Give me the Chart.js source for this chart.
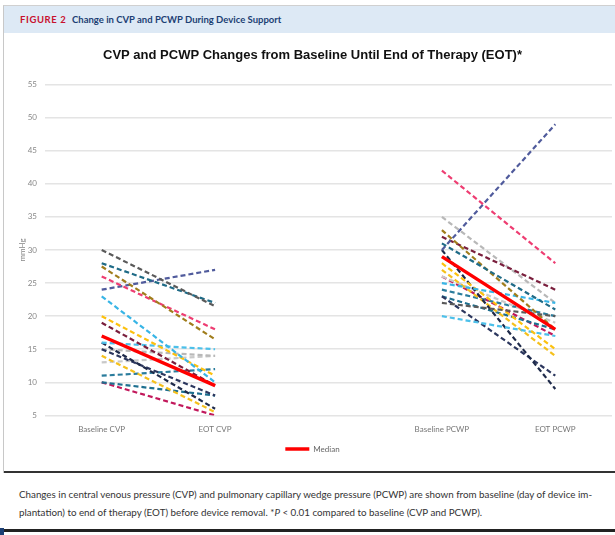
<!DOCTYPE html>
<html>
<head>
<meta charset="utf-8">
<script src="https://cdn.jsdelivr.net/npm/chart.js@4/dist/chart.umd.min.js"></script>
<style>
	html, body { margin: 0; padding: 0; background: #fff; }
	body { width: 615px; height: 535px; position: relative; overflow: hidden; font-family: "Liberation Sans", Arial, sans-serif; }
	#frame { position: absolute; left: 3px; top: 5px; width: 612px; height: 467px; border-left: 1px solid #c8c8c8; border-top: 1px solid #d0d0d0; }
	#header { position: absolute; left: 4px; top: 6px; width: 611px; height: 27px; background: #dde9f5; }
	#header span { position: absolute; top: 8px; font-family: Lato, sans-serif; font-weight: bold; font-size: 9.5px; }
	#fig { left: 16px; color: #c8102e; letter-spacing: 0.6px; }
	#figtitle { left: 68px; color: #1c3f74; }
	#box { position: absolute; left: 5px; top: 33px; width: 610px; height: 432px; }
	#rule1 { position: absolute; left: 4px; top: 471px; width: 611px; height: 2px; background: #333; }
	#caption { position: absolute; left: 19px; top: 485px; width: 595px; font-family: Lato, sans-serif; font-size: 9.8px; line-height: 18px; color: #333; }
	#rule2 { position: absolute; left: 4px; top: 529px; width: 611px; height: 3px; background: #222; }
	#corner { position: absolute; left: 0; top: 528px; width: 4px; height: 7px; background: #1c3f74; }
</style>
</head>
<body>
<div id="frame"></div>
<div id="header"><span id="fig">FIGURE 2</span><span id="figtitle">Change in CVP and PCWP During Device Support</span></div>
<div id="box"><canvas id="myChart" width="610" height="432"></canvas></div>
<div id="rule1"></div>
<div id="caption">Changes in central venous pressure (CVP) and pulmonary capillary wedge pressure (PCWP) are shown from baseline (day of device im-<br>plantation) to end of therapy (EOT) before device removal. *<i>P</i> &lt; 0.01 compared to baseline (CVP and PCWP).</div>
<div id="rule2"></div>
<div id="corner"></div>
<script>
const categories = ["Baseline CVP", "EOT CVP", "", "Baseline PCWP", "EOT PCWP"];

// one colour per patient, same colour in both panels
const patientColors = [
	"#5a5a5a", "#1f6b87", "#a07d1c", "#ee3d72", "#505b9c", "#38b5e6",
	"#fcc10f", "#7a1f3d", "#4cc0ea", "#1e2a4a", "#2c375e", "#b8b8b8",
	"#f5c01c", "#c9c9c9", "#2a7c9c", "#1d6f8f", "#c2185b",
];
const cvpBaseline  = [30, 28, 27.5, 26, 24, 23, 20, 19, 16, 16, 15, 15, 14, 13, 11, 10, 10];
const cvpEot       = [21.5, 22, 16.5, 18, 27, 10, 11, 9.5, 15, 6, 8, 14, 5.5, 14, 12, 8, 5];
const pcwpBaseline = [22, 31, 33, 42, 30, 25, 28, 32, 20, 30, 23, 35, 27, 26, 24, 23, 26];
const pcwpEot      = [20, 21, 18, 28, 49, 22, 15, 24, 17, 9, 11, 22, 14, 19, 20, 18, 17];

const medianValues = [17, 9.5, null, 29, 18];

const ctx = document.getElementById("myChart");

const patientSets = patientColors.map((color, i) => ({
	label: "Patient " + (i + 1),
	data: [cvpBaseline[i], cvpEot[i], null, pcwpBaseline[i], pcwpEot[i]],
	borderColor: color,
	backgroundColor: color,
	borderWidth: 2.2,
	borderDash: [5, 3],
	pointRadius: 0,
	spanGaps: false,
	order: 1,
}));

let myChart = new Chart(ctx, {
	type: "line",
	data: {
		labels: categories,
		datasets: [
			{
				label: "Median",
				data: medianValues,
				borderColor: "#ff0000",
				backgroundColor: "#ff0000",
				borderWidth: 3.5,
				pointRadius: 0,
				spanGaps: false,
				order: 0,
			},
			...patientSets,
		],
	},
	options: {
		responsive: false,
		animation: false,
		layout: {
			padding: { left: 8, right: 3, top: 0, bottom: 2 },
		},
		plugins: {
			title: {
				display: true,
				text: "CVP and PCWP Changes from Baseline Until End of Therapy (EOT)*",
				color: "#111",
				font: { family: "Liberation Sans", size: 13, weight: "bold" },
				padding: { top: 15, bottom: 21 },
			},
			legend: {
				position: "bottom",
				labels: {
					filter: (item) => item.text === "Median",
					color: "#666",
					font: { family: "Lato", size: 8 },
					usePointStyle: true,
					pointStyle: "line",
					pointStyleWidth: 24,
					boxHeight: 6,
					padding: 10,
				},
			},
			tooltip: { enabled: false },
		},
		scales: {
			x: {
				offset: true,
				grid: { display: false },
				border: { display: false },
				ticks: {
					color: "#777",
					font: { family: "Lato", size: 8 },
					padding: 1,
					maxRotation: 0,
				},
			},
			y: {
				min: 5,
				max: 55,
				afterFit: (scale) => { scale.width = 32; }, // keep the axis narrow like the original
				ticks: {
					stepSize: 5,
					color: "#888",
					font: { family: "Lato", size: 8 },
					padding: 8,
				},
				grid: {
					color: "#e4e4e4",
					lineWidth: 1.5,
					drawTicks: false,
				},
				border: { display: false },
				title: {
					display: true,
					text: "mmHg",
					color: "#888",
					font: { family: "Lato", size: 8 },
					padding: { top: 5, bottom: 0 },
				},
			},
		},
	},
});
</script>
</body>
</html>
